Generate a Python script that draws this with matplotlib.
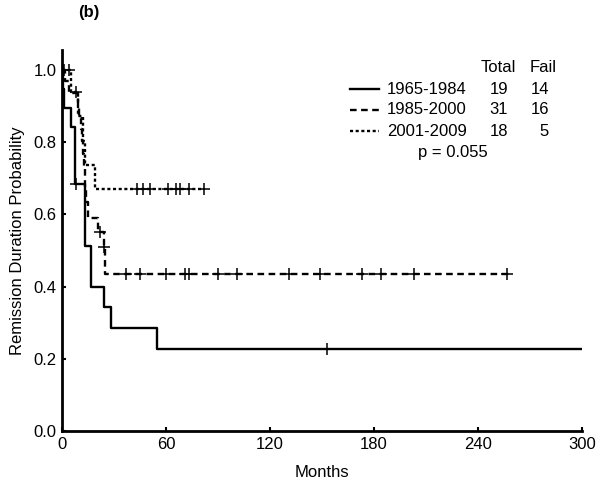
#!/usr/bin/env python3
"""
Kaplan-Meier style remission duration curves, panel (b).
"""
import numpy as np
import matplotlib
matplotlib.use("Agg")
import matplotlib.pyplot as plt
from matplotlib.lines import Line2D

plt.rcParams["font.family"] = ["Liberation Sans", "DejaVu Sans"]

# step curves (time in months, survival probability after the step)
early_t = [0, 0.5, 1, 5, 7.5, 13, 17, 24, 28, 55, 300]
early_s = [1.0, 0.947, 0.895, 0.842, 0.684, 0.513, 0.399, 0.342, 0.285, 0.228, 0.228]
early_cens = [8, 153]

mid_t = [0, 2, 4, 9, 10, 11, 11.5, 12, 12.5, 13, 13.5, 14, 15, 21, 24, 25, 258]
mid_s = [1.0, 0.968, 0.935, 0.902, 0.868, 0.835, 0.802, 0.768, 0.735, 0.701,
         0.668, 0.635, 0.59, 0.551, 0.51, 0.435, 0.435]
mid_cens = [22, 24.5, 37, 45, 60, 71, 73, 90, 101, 131, 149, 173, 184, 203, 257]

late_t = [0, 5, 9, 12, 13.5, 19, 82]
late_s = [1.0, 0.9375, 0.871, 0.804, 0.737, 0.670, 0.670]
late_cens = [1, 4, 8, 43, 47, 51, 61, 66, 68, 73, 82]

groups = ["1965-1984", "1985-2000", "2001-2009"]
totals = [19, 31, 18]
fails = [14, 16, 5]
p_text = "p = 0.055"

x_ticks = [0, 60, 120, 180, 240, 300]
y_ticks = [0.0, 0.2, 0.4, 0.6, 0.8, 1.0]


def level_at(times, surv, t):
    i = np.searchsorted(times, t, side="right") - 1
    return surv[i]


def fx(px):
    return px / 600.0


def fy(py):
    return 1.0 - py / 487.0


fig = plt.figure(figsize=(6.0, 4.87), dpi=100)
ax = fig.add_axes([fx(62), fy(431), fx(582) - fx(62), fy(50) - fy(431)])

styles = [
    dict(linestyle="-"),
    dict(dashes=(2.8, 1.9)),
    dict(dashes=(1.3, 1.1)),
]
curves = [(early_t, early_s, early_cens),
          (mid_t, mid_s, mid_cens),
          (late_t, late_s, late_cens)]

for (t, s, cens), st in zip(curves, styles):
    ax.step(t, s, where="post", color="black", lw=1.7, **st)
    cy = [level_at(np.array(t), np.array(s), c) for c in cens]
    ax.plot(cens, cy, linestyle="none", marker="+", ms=8, mew=1.1,
            color="black")

ax.set_xlim(0, 300)
ax.set_ylim(0, 1.055)
ax.set_xticks(x_ticks)
ax.set_yticks(y_ticks)
ax.set_yticklabels([f"{v:.1f}" for v in y_ticks])
ax.tick_params(direction="in", length=3, width=1.5, labelsize=12, pad=4)
for side in ("top", "right"):
    ax.spines[side].set_visible(False)
for side in ("left", "bottom"):
    ax.spines[side].set_linewidth(2)

ax.set_xlabel("Months", fontsize=12, labelpad=10)
ax.set_ylabel("Remission Duration Probability", fontsize=12, labelpad=6)

fig.text(fx(89), fy(13), "(b)", fontsize=12, fontweight="bold",
         ha="center", va="center")

# legend table
fig.text(fx(498), fy(68), "Total", fontsize=12, ha="center", va="center")
fig.text(fx(557), fy(68), "Fail", fontsize=12, ha="right", va="center")
row_y = [89, 110, 131]
for i, (name, n, f) in enumerate(zip(groups, totals, fails)):
    yy = fy(row_y[i])
    line = Line2D([fx(350), fx(379)], [yy, yy], color="black", lw=1.7,
                  transform=fig.transFigure, **styles[i])
    fig.add_artist(line)
    fig.text(fx(387), yy, name, fontsize=12, ha="left", va="center")
    fig.text(fx(499), yy, str(n), fontsize=12, ha="center", va="center")
    fig.text(fx(549), yy, str(f), fontsize=12, ha="right", va="center")
fig.text(fx(453), fy(152), p_text, fontsize=12, ha="center", va="center")

fig.savefig("out.png", dpi=100)
plt.close(fig)
